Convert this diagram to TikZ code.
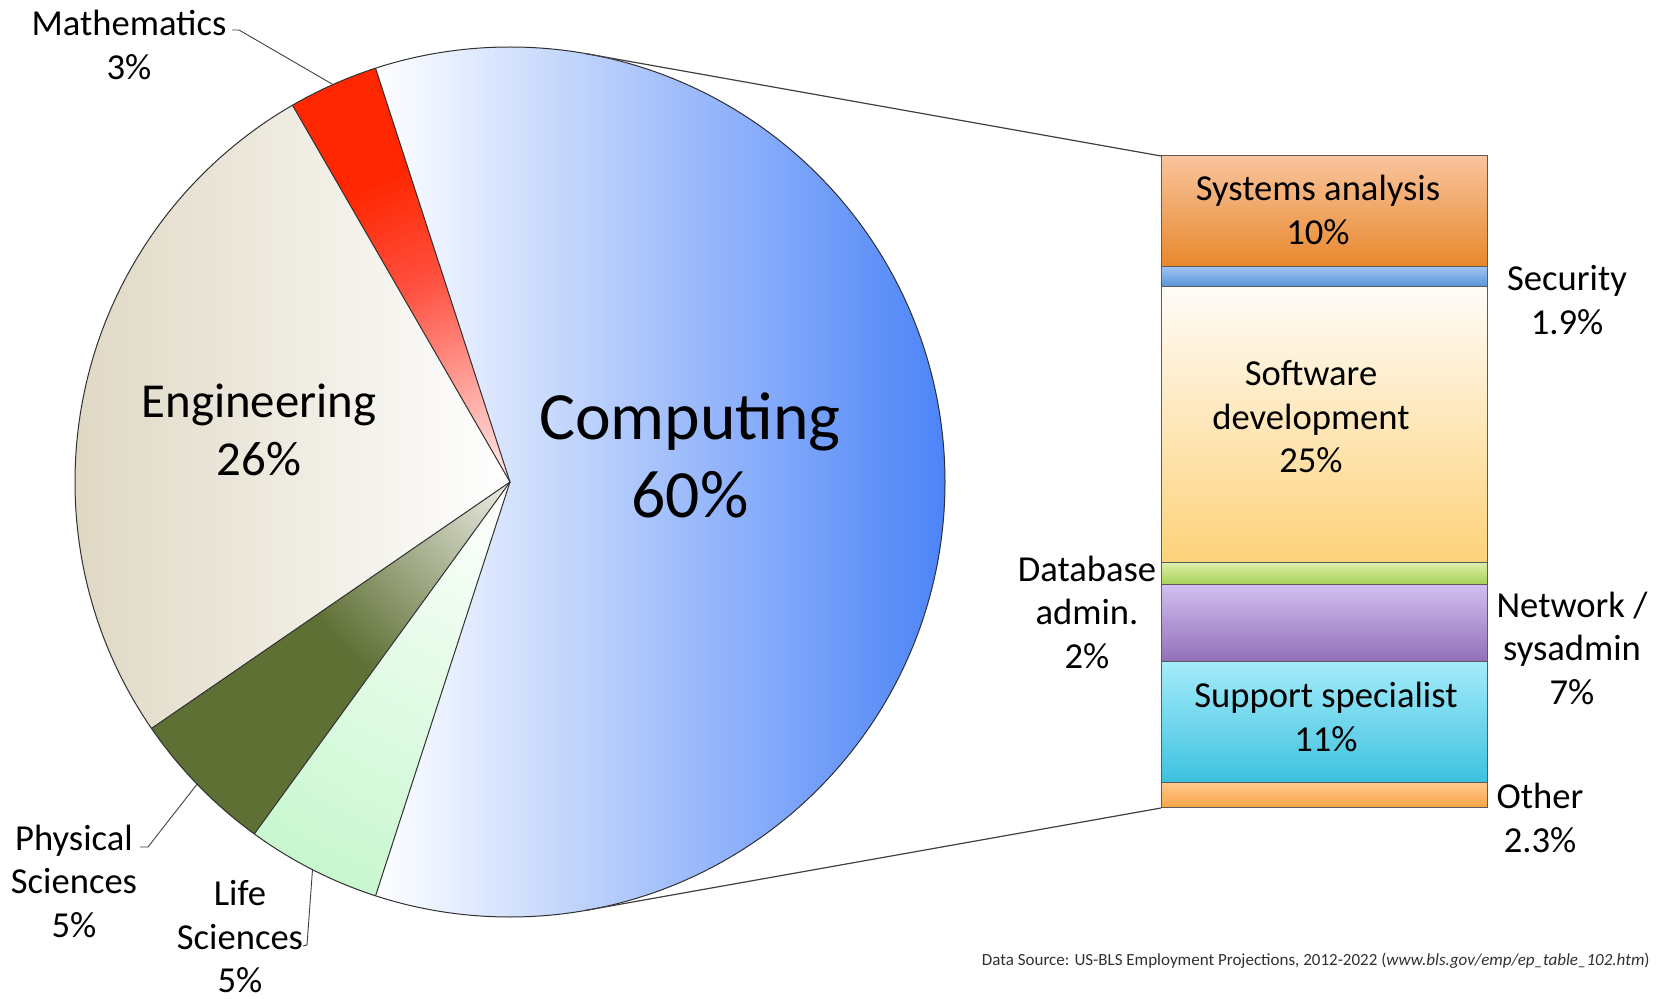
\documentclass[tikz,border=0pt]{standalone}
\usepackage{fontspec}
\setmainfont{Carlito}
\definecolor{compblue}{HTML}{3B78F7}
\definecolor{engbeige}{HTML}{DFD8C4}
\definecolor{pieline}{HTML}{303030}
\definecolor{leadgray}{HTML}{404040}
\definecolor{zoomgray}{HTML}{404040}
\definecolor{bargray}{HTML}{5A5A5A}
\definecolor{srcgray}{HTML}{303030}
\definecolor{mathpink}{HTML}{FFEEEE}
\definecolor{mathmid}{HTML}{FF5040}
\definecolor{mathred}{HTML}{FF2600}
\definecolor{physlight}{HTML}{EEEEE6}
\definecolor{physdark}{HTML}{5F7035}
\definecolor{lifegreen}{HTML}{C8F7CF}
\definecolor{saTop}{HTML}{F9C49D}
\definecolor{saBot}{HTML}{E8882C}
\definecolor{secTop}{HTML}{A3C6F3}
\definecolor{secBot}{HTML}{5693D6}
\definecolor{swTop}{HTML}{FFFCF8}
\definecolor{swBot}{HTML}{FDD27A}
\definecolor{dbTop}{HTML}{DCF0A8}
\definecolor{dbBot}{HTML}{A8D058}
\definecolor{nwTop}{HTML}{D2BFF0}
\definecolor{nwBot}{HTML}{9270B8}
\definecolor{spTop}{HTML}{A4ECFB}
\definecolor{spBot}{HTML}{3EC1DE}
\definecolor{otTop}{HTML}{FFC98E}
\definecolor{otBot}{HTML}{F9A444}
\pgfdeclareradialshading{mathsh}{\pgfpoint{0bp}{0bp}}{color(0bp)=(mathpink); color(12.5bp)=(mathmid); color(19bp)=(mathred); color(50bp)=(mathred)}
\pgfdeclareradialshading{physsh}{\pgfpoint{0bp}{0bp}}{color(0bp)=(physlight); color(13.5bp)=(physdark); color(50bp)=(physdark)}
\pgfdeclareradialshading{lifesh}{\pgfpoint{0bp}{0bp}}{color(0bp)=(white); color(25bp)=(lifegreen); color(50bp)=(lifegreen)}
\begin{document}
\begin{tikzpicture}[x=0.5pt,y=0.5pt,
  slice/.style={draw=pieline, line width=0.5pt},
  leader/.style={draw=leadgray, line width=0.45pt},
  zoomline/.style={draw=zoomgray, line width=0.6pt},
  seg/.style={draw=bargray, line width=0.5pt},
  lbl/.style={align=center, inner sep=0pt, font=\fontsize{18.3}{21.75}\selectfont},
]
\useasboundingbox (0,0) rectangle (1662,998);
\coordinate (O) at (510,516);
\def\R{435}
% Computing
\shade[left color=white, right color=compblue] (O) -- +(-108:\R) arc[start angle=-108, end angle=108, radius=\R] -- cycle;
% Engineering
\shade[left color=engbeige, right color=white] (O) -- +(120:\R) arc[start angle=120, end angle=214.5, radius=\R] -- cycle;
% Mathematics
\begin{scope}
\clip (O) -- +(108:\R) arc[start angle=108, end angle=120, radius=\R] -- cycle;
\shade[shading=mathsh] (O) circle[radius=\R];
\end{scope}
% Physical sciences
\begin{scope}
\clip (O) -- +(214.5:\R) arc[start angle=214.5, end angle=234, radius=\R] -- cycle;
\shade[shading=physsh] (O) circle[radius=\R];
\end{scope}
% Life sciences
\begin{scope}
\clip (O) -- +(234:\R) arc[start angle=234, end angle=252, radius=\R] -- cycle;
\shade[shading=lifesh] (O) circle[radius=\R];
\end{scope}
% outlines
\draw[slice] (O) circle[radius=\R];
\foreach \a in {108,120,214.5,234,252} \draw[slice] (O) -- +(\a:\R);
% rim points
\path (O) ++(80:\R) coordinate (ztop);
\path (O) ++(-80:\R) coordinate (zbot);
\path (O) ++(114:\R) coordinate (mathrim);
\path (O) ++(224:\R) coordinate (physrim);
\path (O) ++(243:\R) coordinate (liferim);
% bar
\coordinate (btl) at (1161,842);
\coordinate (bbl) at (1161,190);
\shade[seg, top color=saTop, bottom color=saBot] (1161,842) rectangle (1487,731.9);
\shade[seg, top color=secTop, bottom color=secBot] (1161,731.9) rectangle (1487,711);
\shade[seg, top color=swTop, bottom color=swBot] (1161,711) rectangle (1487,435.7);
\shade[seg, top color=dbTop, bottom color=dbBot] (1161,435.7) rectangle (1487,413.7);
\shade[seg, top color=nwTop, bottom color=nwBot] (1161,413.7) rectangle (1487,336.6);
\shade[seg, top color=spTop, bottom color=spBot] (1161,336.6) rectangle (1487,215.5);
\shade[seg, top color=otTop, bottom color=otBot] (1161,215.5) rectangle (1487,190.2);
% zoom lines
\draw[zoomline] (ztop) -- (btl);
\draw[zoomline] (zbot) -- (bbl);
% pie labels
\node[align=center, inner sep=0pt, font=\fontsize{33.8}{39}\selectfont] (comp) at (690,543) {Computing\\60\%};
\node[align=center, inner sep=0pt, font=\fontsize{24.4}{29}\selectfont] (eng) at (259,568) {Engineering\\26\%};
\node[lbl] (math) at (129,953) {Mathematics\\3\%};
\node[lbl] (phys) at (74,117) {Physical\\Sciences\\5\%};
\node[lbl] (life) at (240,61) {Life\\Sciences\\5\%};
% leaders
\coordinate (mathA) at (232,968);
\coordinate (mathB) at (239,968);
\draw[leader] (mathA) -- (mathB) -- (mathrim);
\coordinate (physA) at (140,151);
\coordinate (physB) at (148,151);
\draw[leader] (physA) -- (physB) -- (physrim);
\coordinate (lifeA) at (303,52);
\coordinate (lifeB) at (307,53);
\draw[leader] (lifeA) -- (lifeB) -- (liferim);
% bar labels
\node[lbl] (sa) at (1318,788) {Systems analysis\\10\%};
\node[lbl] (sw) at (1311,581) {Software\\development\\25\%};
\node[lbl] (sp) at (1326,281) {Support specialist\\11\%};
\node[lbl] (sec) at (1567,698) {Security\\1.9\%};
\node[lbl] (nw) at (1572,350) {Network /\\sysadmin\\7\%};
\node[lbl] (ot) at (1540,180) {Other\\2.3\%};
\node[lbl] (db) at (1087,386) {Database\\admin.\\2\%};
% source
\node[anchor=east, inner sep=0pt, text=srcgray, font=\fontsize{8.5}{10}\selectfont] (src) at (1650,37) {Data Source: US-BLS Employment Projections, 2012-2022 (\textit{www.bls.gov/emp/ep\_table\_102.htm})};
\end{tikzpicture}
\end{document}
